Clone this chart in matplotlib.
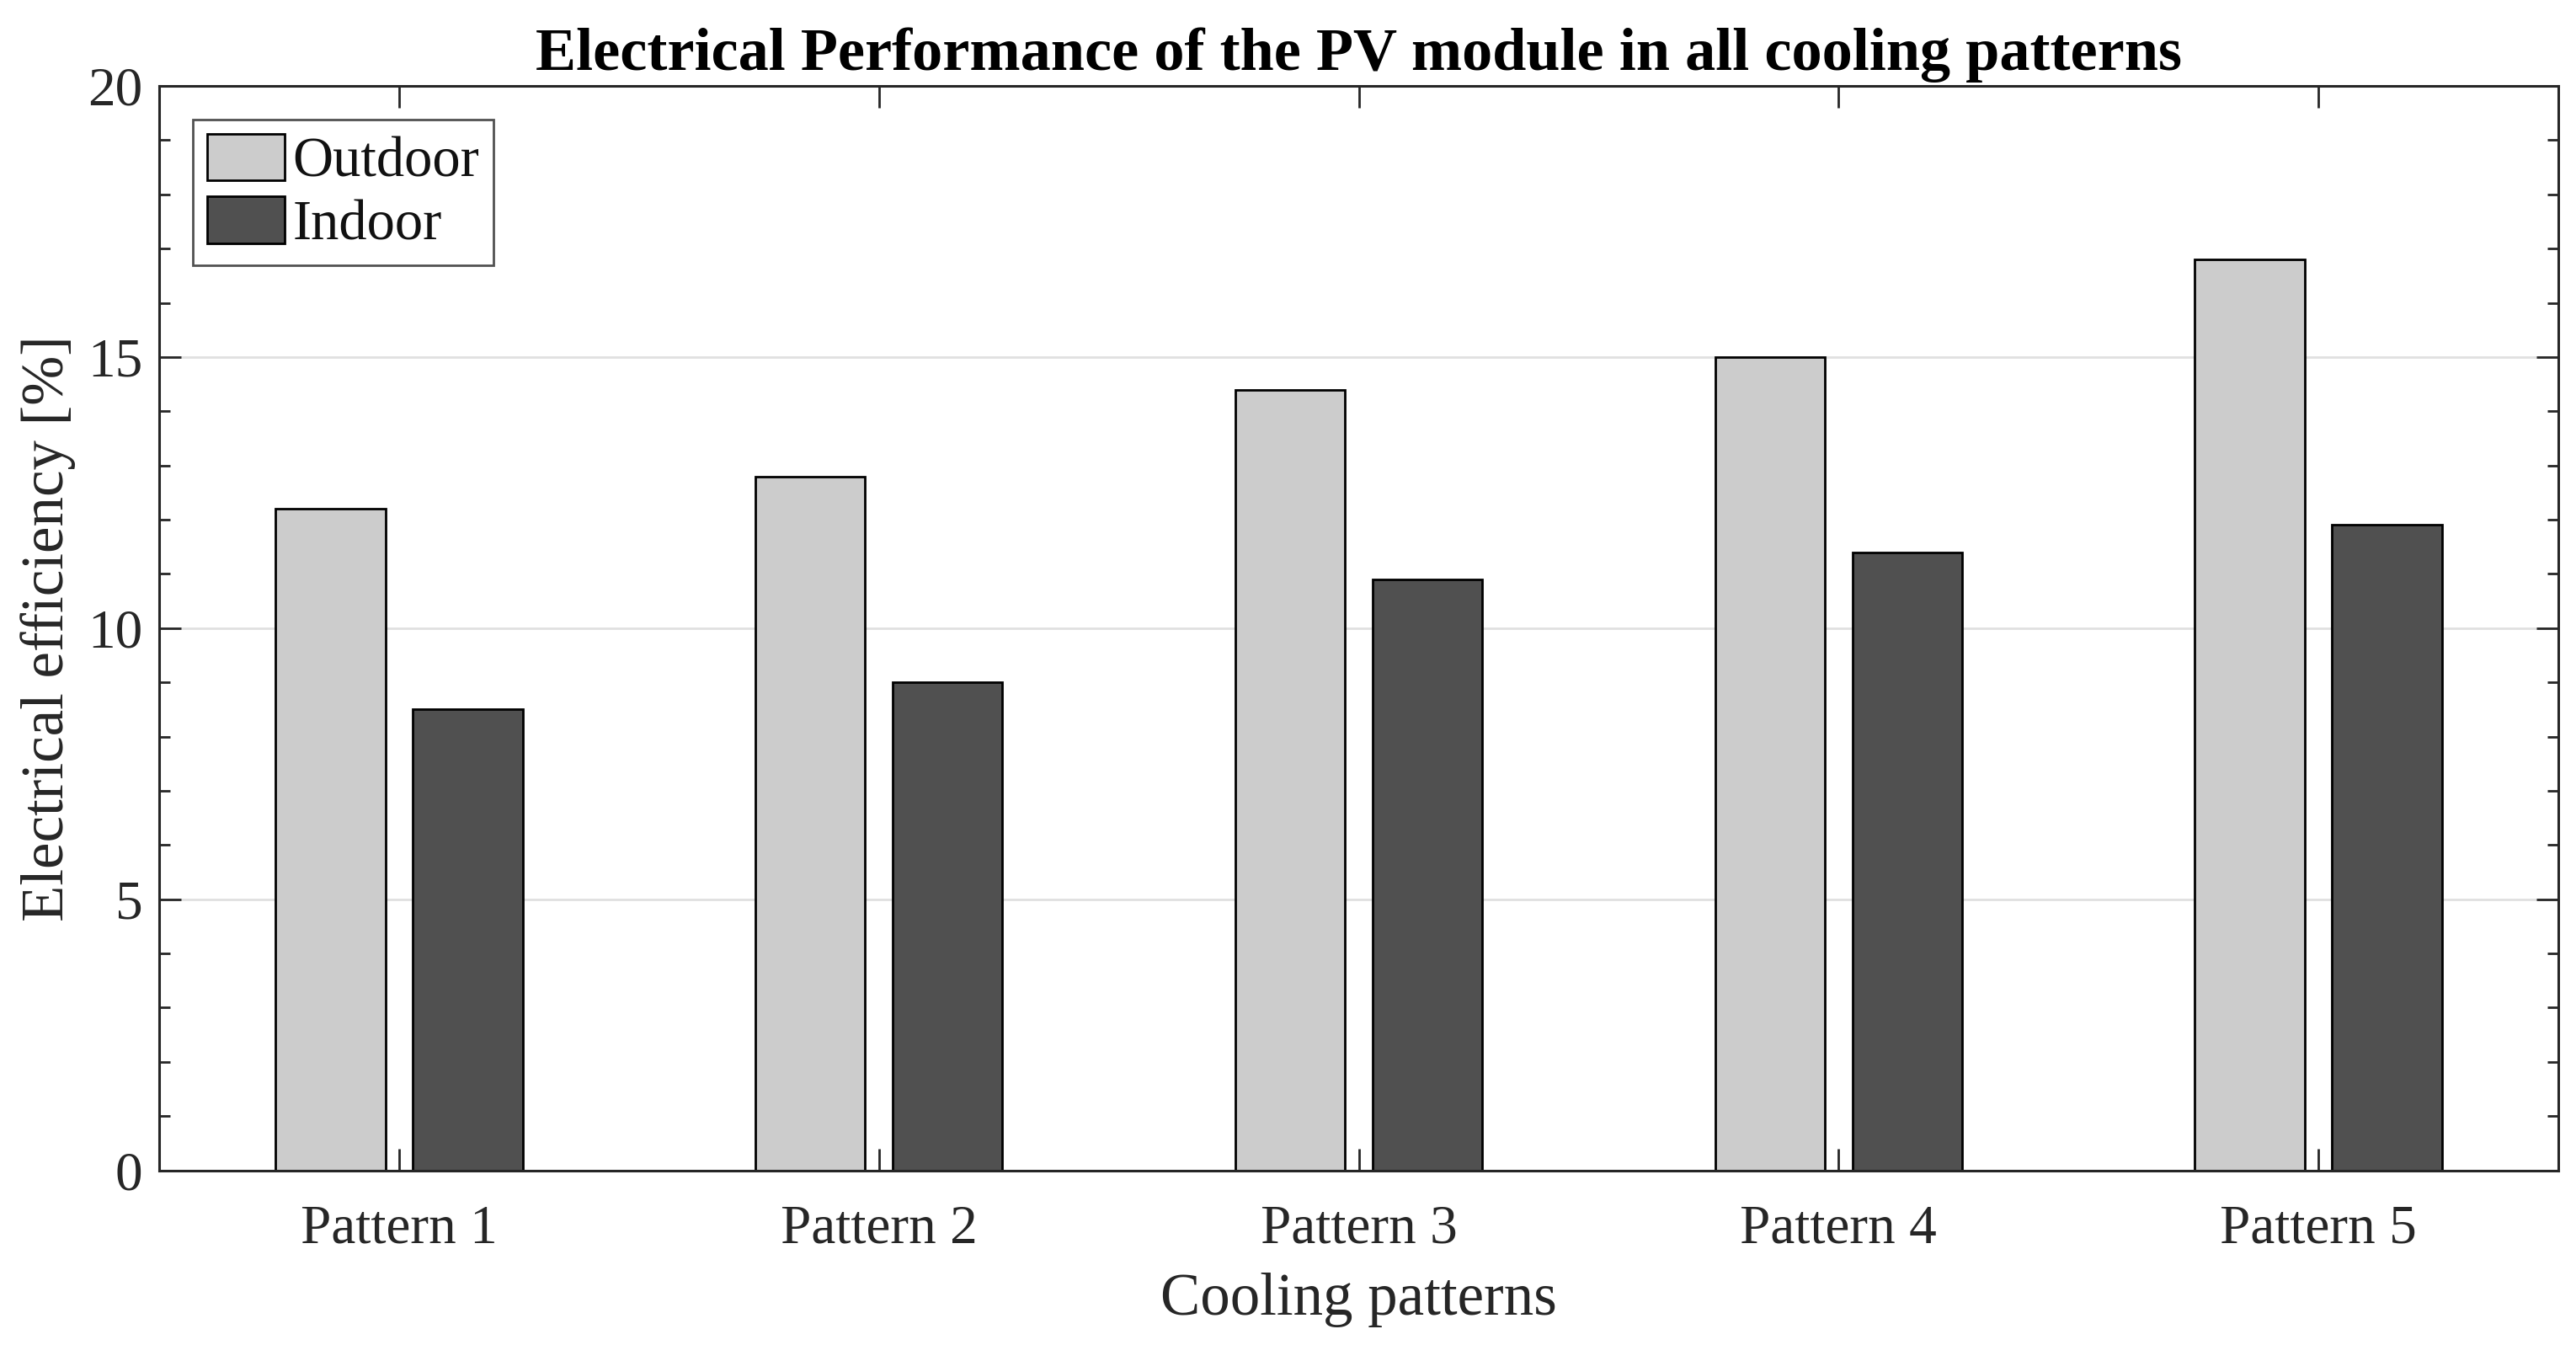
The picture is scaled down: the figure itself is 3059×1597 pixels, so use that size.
import matplotlib
matplotlib.use("Agg")
import matplotlib.pyplot as plt
import numpy as np
from matplotlib.ticker import MultipleLocator

categories = ["Pattern 1", "Pattern 2", "Pattern 3", "Pattern 4", "Pattern 5"]
outdoor = [12.2, 12.8, 14.4, 15.0, 16.8]
indoor = [8.5, 9.0, 10.9, 11.4, 11.9]
series_names = ["Outdoor", "Indoor"]
yticks = [0, 5, 10, 15, 20]

plt.rcParams['font.family'] = ['Liberation Serif', 'DejaVu Serif']

fig = plt.figure(figsize=(3059/200, 1597/200), dpi=200)
ax = fig.add_axes([189/3059, 1 - 1389.5/1597, (3038-189)/3059, (1389.5-102)/1597])

x = np.arange(1, len(categories) + 1)
w = 0.229
off = 0.143
ax.bar(x - off, outdoor, w, color="#cccccc", edgecolor="black", linewidth=1.0, label=series_names[0], zorder=2)
ax.bar(x + off, indoor, w, color="#505050", edgecolor="black", linewidth=1.0, label=series_names[1], zorder=2)

ax.set_xlim(0.5, 5.5)
ax.set_ylim(0, 20)
ax.set_xticks(x)
ax.set_xticklabels(categories)
ax.set_yticks(yticks)
ax.yaxis.set_minor_locator(MultipleLocator(1))
ax.yaxis.grid(True, which='major', color="#e0e0e0", linewidth=1.0, zorder=0)
ax.set_axisbelow(True)

ax.tick_params(axis='both', which='major', direction='in', length=9.5, width=1.0,
               top=True, right=True, labelsize=23.5, color="#262626", labelcolor="#262626")
ax.tick_params(axis='y', which='minor', direction='in', length=4.7, width=1.0,
               right=True, color="#262626")
ax.tick_params(axis='x', pad=14.5)
ax.tick_params(axis='y', pad=7)
for s in ax.spines.values():
    s.set_linewidth(1.1)
    s.set_color("#262626")

ax.set_xlabel("Cooling patterns", fontsize=25.5, color="#262626", labelpad=8)
ax.set_ylabel("Electrical efficiency [%]", fontsize=25.5, color="#262626", labelpad=5)
ax.set_title("Electrical Performance of the PV module in all cooling patterns",
             fontsize=26, fontweight='bold', pad=7)

leg = ax.legend(loc='upper left', fontsize=24, frameon=True, fancybox=False,
                edgecolor="#262626", borderpad=0.25, handlelength=1.38, handleheight=0.9,
                handletextpad=0.15, labelspacing=0.15, borderaxespad=0.6)
leg.get_frame().set_linewidth(1.0)
for t in leg.get_texts():
    t.set_color("#111111")

fig.savefig("out.png", dpi=200)
